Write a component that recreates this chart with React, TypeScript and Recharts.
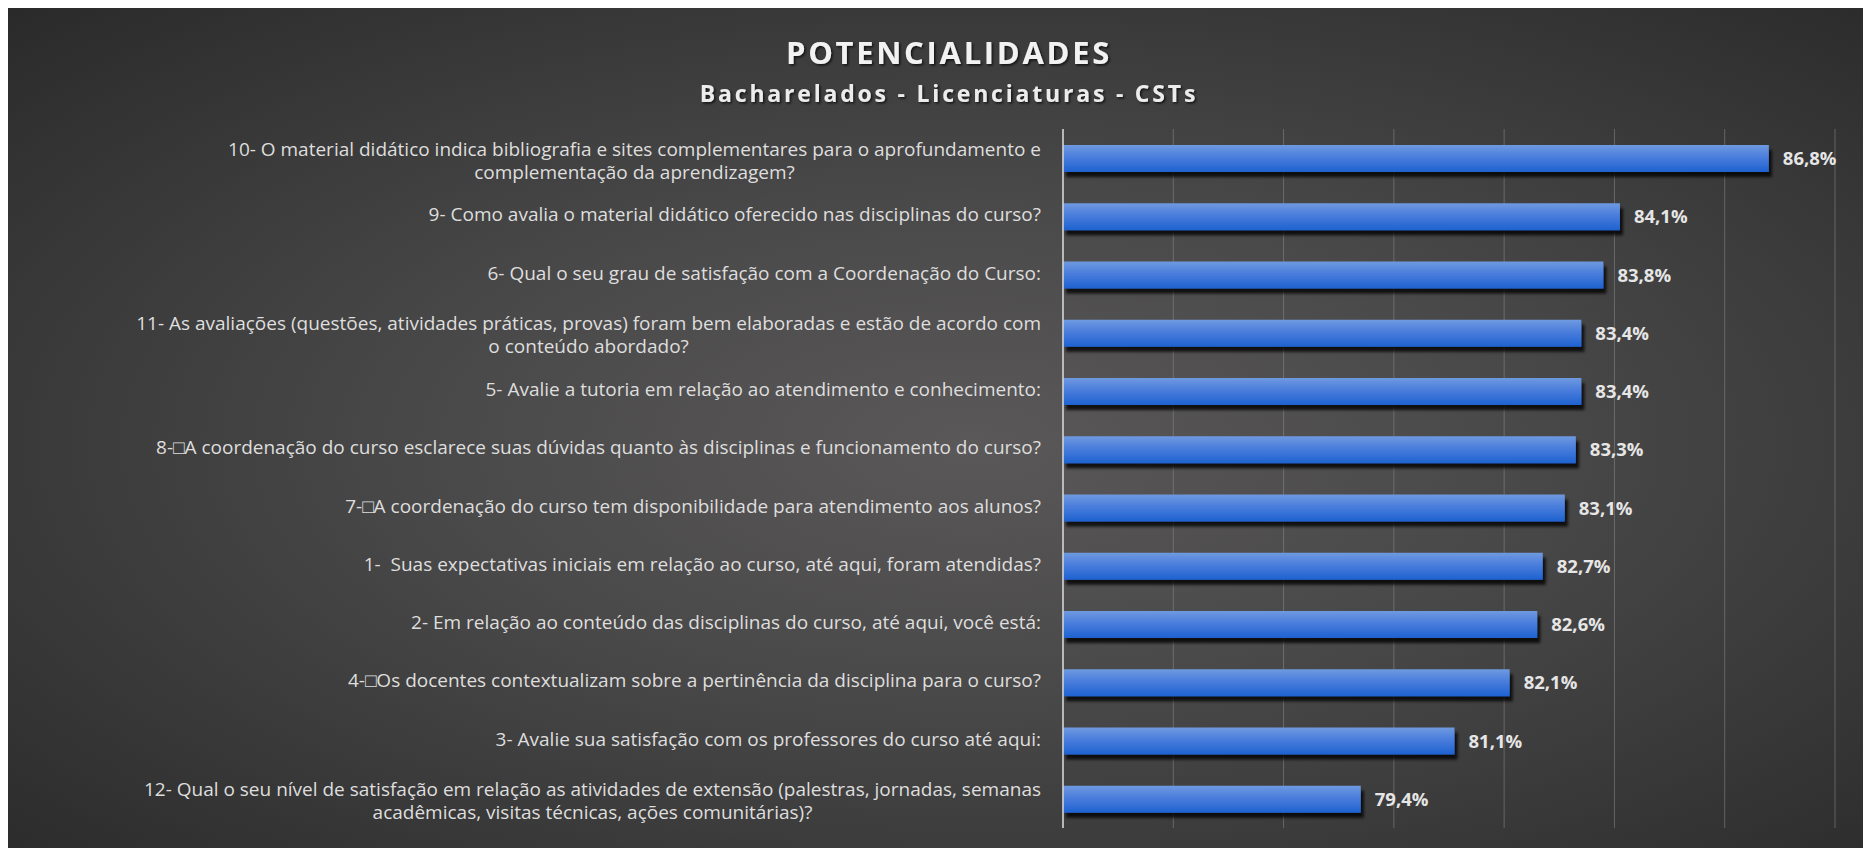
import React from 'react'
import { BarChart, Bar, XAxis, YAxis, CartesianGrid, LabelList } from 'recharts'

// questions, top to bottom ("\n" = line break as in the original)
const QUESTIONS = [
  '10- O material didático indica bibliografia e sites complementares para o aprofundamento e\ncomplementação da aprendizagem?',
  '9- Como avalia o material didático oferecido nas disciplinas do curso?',
  '6- Qual o seu grau de satisfação com a Coordenação do Curso:',
  '11- As avaliações (questões, atividades práticas, provas) foram bem elaboradas e estão de acordo com\no conteúdo abordado?',
  '5- Avalie a tutoria em relação ao atendimento e conhecimento:',
  '8-\u25A1A coordenação do curso esclarece suas dúvidas quanto às disciplinas e funcionamento do curso?',
  '7-\u25A1A coordenação do curso tem disponibilidade para atendimento aos alunos?',
  '1-  Suas expectativas iniciais em relação ao curso, até aqui, foram atendidas?',
  '2- Em relação ao conteúdo das disciplinas do curso, até aqui, você está:',
  '4-\u25A1Os docentes contextualizam sobre a pertinência da disciplina para o curso?',
  '3- Avalie sua satisfação com os professores do curso até aqui:',
  '12- Qual o seu nível de satisfação em relação as atividades de extensão (palestras, jornadas, semanas\nacadêmicas, visitas técnicas, ações comunitárias)?',
]

const SCORES = [86.8, 84.1, 83.8, 83.4, 83.4, 83.3, 83.1, 82.7, 82.6, 82.1, 81.1, 79.4]

const X_TICKS = [74, 76, 78, 80, 82, 84, 86, 88]

const TITLE = 'POTENCIALIDADES'
const SUBTITLE = 'Bacharelados - Licenciaturas - CSTs'

const data = QUESTIONS.map((q, i) => ({ question: q, value: SCORES[i] }))

const W = 1855
const H = 840
const LABEL_SIZE = 19
const LABEL_FONT = `${LABEL_SIZE}px "Open Sans"`
const LABEL_RIGHT = 1033
const LINE_H = 23

let ctx: CanvasRenderingContext2D | null = null
const measure = (s: string) => {
  if (!ctx) ctx = document.createElement('canvas').getContext('2d')
  if (!ctx) return s.length * 9
  ctx.font = LABEL_FONT
  return ctx.measureText(s).width
}

const QuestionTick = (props: any) => {
  const { y, payload } = props
  const lines = String(payload.value).split('\n')
  if (lines.length === 1) {
    return (
      <text x={LABEL_RIGHT} y={y - 2} textAnchor="end" dominantBaseline="central"
        fill="#dedede" fontFamily="Open Sans" fontSize={LABEL_SIZE} style={{ whiteSpace: 'pre' }}>
        {lines[0]}
      </text>
    )
  }
  const widest = Math.max(...lines.map(measure))
  const cx = LABEL_RIGHT - widest / 2
  const top = y + 2 - ((lines.length - 1) * LINE_H) / 2
  return (
    <text textAnchor="middle" dominantBaseline="central" fill="#dedede"
      fontFamily="Open Sans" fontSize={LABEL_SIZE} style={{ whiteSpace: 'pre' }}>
      {lines.map((l, i) => (
        <tspan key={i} x={cx} y={top + i * LINE_H}>{l}</tspan>
      ))}
    </text>
  )
}

const fmt = (v: any) => Number(v).toFixed(1).replace('.', ',') + '%'

export default function App() {
  return (
    <div style={{
      position: 'relative', width: W, height: H,
      background: 'radial-gradient(ellipse at 52% 52%, #5a5858 0%, #4a4949 40%, #2a2a2a 100%)',
    }}>
      <svg width={W} height={120} style={{ position: 'absolute', left: 0, top: 0 }}>
        <defs>
          <filter id="txtShadow" x="-10%" y="-30%" width="120%" height="160%">
            <feDropShadow dx="1.5" dy="1.5" stdDeviation="1" floodColor="#000" floodOpacity="0.7" />
          </filter>
        </defs>
        <text x={941} y={56} textAnchor="middle" fill="#f2f2f2" fontFamily="Open Sans"
          fontWeight={700} fontSize={31} letterSpacing={2.7} filter="url(#txtShadow)">
          {TITLE}
        </text>
        <text x={941} y={94} textAnchor="middle" fill="#ececec" fontFamily="Open Sans"
          fontWeight={700} fontSize={23} letterSpacing={2.8} filter="url(#txtShadow)">
          {SUBTITLE}
        </text>
      </svg>
      <BarChart width={W} height={H} data={data} layout="vertical"
        margin={{ top: 121, right: 28, bottom: 20, left: 0 }}
        style={{ position: 'absolute', left: 0, top: 0 }}>
        <defs>
          <linearGradient id="barGrad" x1="0" y1="0" x2="0" y2="1">
            <stop offset="0%" stopColor="#6f9ae0" />
            <stop offset="45%" stopColor="#4a7ddc" />
            <stop offset="100%" stopColor="#1e62d0" />
          </linearGradient>
          <filter id="barShadow" x="-5%" y="-50%" width="115%" height="260%">
            <feDropShadow dx="3" dy="5" stdDeviation="1.5" floodColor="#000" floodOpacity="0.8" />
          </filter>
        </defs>
        <CartesianGrid horizontal={false} stroke="#8a8a8a" strokeOpacity={0.55} />
        <XAxis type="number" domain={[74, 88]} ticks={X_TICKS} hide allowDataOverflow />
        <YAxis type="category" dataKey="question" width={1055} interval={0}
          axisLine={{ stroke: '#d8d8d8', strokeWidth: 1.5 }} tickLine={false}
          tick={<QuestionTick />} />
        <Bar dataKey="value" barSize={27} fill="url(#barGrad)" filter="url(#barShadow)"
          isAnimationActive={false}>
          <LabelList dataKey="value" position="right" offset={14} formatter={fmt}
            fill="#e6e6e6" fontFamily="Open Sans" fontWeight={700} fontSize={18.5} />
        </Bar>
      </BarChart>
    </div>
  )
}
